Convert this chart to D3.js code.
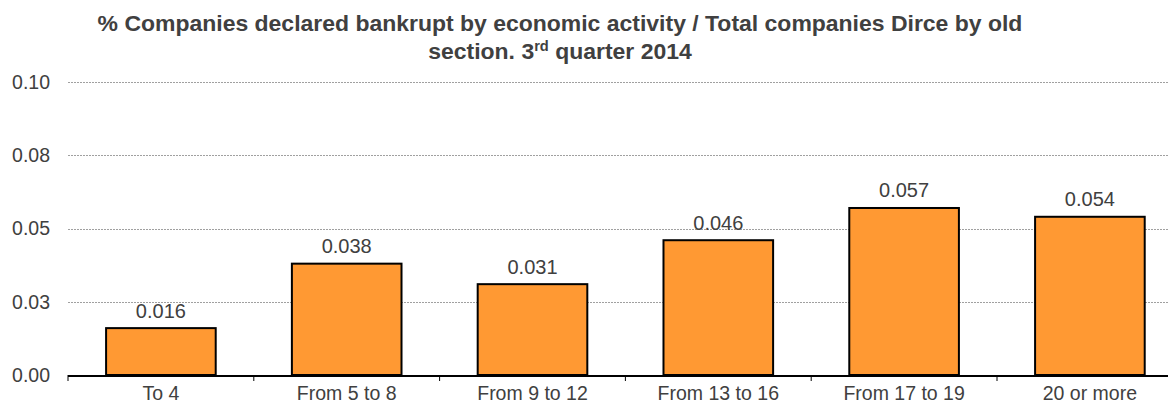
<!DOCTYPE html>
<html><head><meta charset="utf-8">
<script src="https://cdn.jsdelivr.net/npm/d3@7"></script>
<style>body{margin:0;background:#fff}svg{display:block}text{font-family:"Liberation Sans",Arial,sans-serif}</style>
</head><body><svg id="c" width="1168" height="405"></svg>
<script>
const categories = ["To 4","From 5 to 8","From 9 to 12","From 13 to 16","From 17 to 19","20 or more"];
const values = [0.016,0.038,0.031,0.046,0.057,0.054];
const yTicks = [0,0.025,0.05,0.075,0.1];
const titleLine1 = "% Companies declared bankrupt by economic activity / Total companies Dirce by old";

const svg = d3.select("#c");
const left = 68, baseY = 375, topY = 82, step = 185.8;
const x = d3.scaleBand().domain(categories).range([left, left + step*categories.length]).paddingInner(0.41).paddingOuter(0.205);
const y = d3.scaleLinear().domain([0,0.1]).range([baseY, topY]);
const fmt2 = d => (Math.round(d*100+1e-9)/100).toFixed(2);

// gridlines
svg.append("g").selectAll("line").data(yTicks.filter(d=>d>0)).join("line")
  .attr("x1",left).attr("x2",1168).attr("y1",d=>Math.round(y(d))+0.5).attr("y2",d=>Math.round(y(d))+0.5)
  .attr("stroke","#a0a0a0").attr("stroke-width",1).attr("stroke-dasharray","2,1");

// y axis labels
svg.append("g").selectAll("text").data(yTicks).join("text")
  .attr("x",50).attr("y",d=>y(d)).attr("dy","0.35em").attr("text-anchor","end")
  .attr("font-size",19.5).attr("fill","#404040").text(fmt2);

// bars
svg.append("g").selectAll("rect").data(values).join("rect")
  .attr("x",(d,i)=>x(categories[i])).attr("width",x.bandwidth())
  .attr("y",d=>y(d)).attr("height",d=>baseY-y(d))
  .attr("fill","#FF9933").attr("stroke","#000").attr("stroke-width",2);

// value labels
svg.append("g").selectAll("text").data(values).join("text")
  .attr("x",(d,i)=>x(categories[i])+x.bandwidth()/2).attr("y",d=>y(d)-10.5)
  .attr("text-anchor","middle").attr("font-size",20).attr("fill","#404040")
  .text(d=>d3.format(".3f")(d));

// x axis
const xa = svg.append("g");
xa.append("line").attr("x1",left).attr("x2",1168).attr("y1",baseY+1).attr("y2",baseY+1).attr("stroke","#000").attr("stroke-width",2);
xa.selectAll("line.t").data(d3.range(categories.length+1)).join("line").attr("class","t")
  .attr("x1",i=>left+i*x.step()).attr("x2",i=>left+i*x.step()).attr("y1",baseY).attr("y2",baseY+6)
  .attr("stroke","#000").attr("stroke-width",1);
xa.selectAll("text").data(categories).join("text")
  .attr("x",d=>x(d)+x.bandwidth()/2).attr("y",400).attr("text-anchor","middle")
  .attr("font-size",19.5).attr("fill","#404040").text(d=>d);

// title
const t = svg.append("g").attr("font-weight","bold").attr("font-size",22).attr("fill","#404040").attr("text-anchor","middle");
const l1 = t.append("text").attr("x",560).attr("y",31).text(titleLine1);
const t2 = t.append("text").attr("x",560).attr("y",59);
t2.append("tspan").text("section. 3");
t2.append("tspan").attr("font-size",14).attr("dy",-8).text("rd");
t2.append("tspan").attr("dy",8).text(" quarter 2014");
const sx = 925 / l1.node().getComputedTextLength();
t.attr("transform",`translate(560,0) scale(${sx},1) translate(-560,0)`);
</script></body></html>
